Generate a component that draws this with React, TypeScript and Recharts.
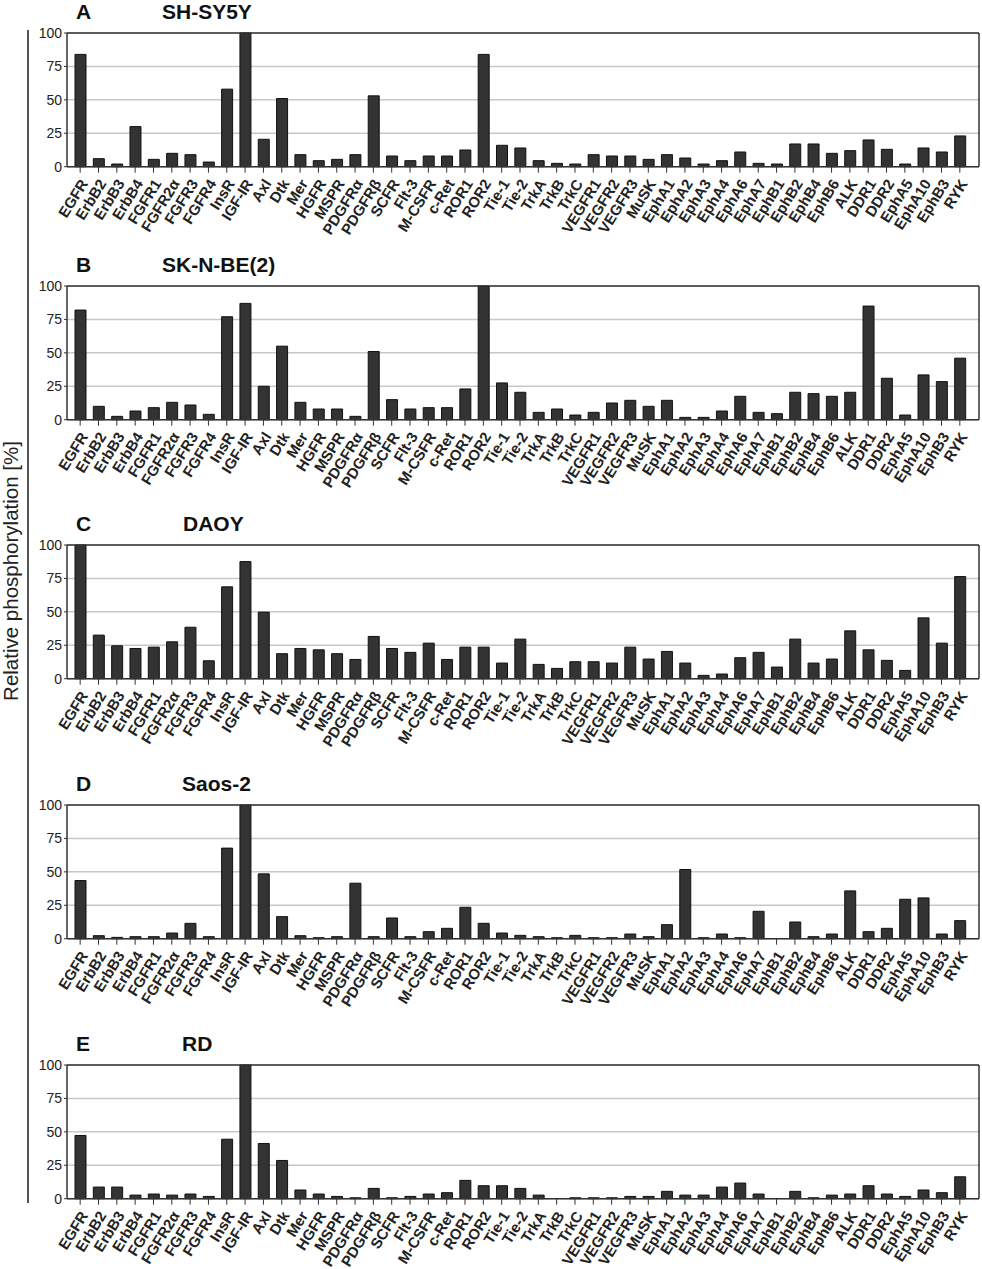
import React from 'react';
import { BarChart, Bar, XAxis, YAxis, CartesianGrid, ReferenceLine } from 'recharts';

const categories = [
  'EGFR', 'ErbB2', 'ErbB3', 'ErbB4', 'FGFR1', 'FGFR2α', 'FGFR3', 'FGFR4', 'InsR', 'IGF-IR',
  'Axl', 'Dtk', 'Mer', 'HGFR', 'MSPR', 'PDGFRα', 'PDGFRβ', 'SCFR', 'Flt-3', 'M-CSFR',
  'c-Ret', 'ROR1', 'ROR2', 'Tie-1', 'Tie-2', 'TrkA', 'TrkB', 'TrkC', 'VEGFR1', 'VEGFR2',
  'VEGFR3', 'MuSK', 'EphA1', 'EphA2', 'EphA3', 'EphA4', 'EphA6', 'EphA7', 'EphB1', 'EphB2',
  'EphB4', 'EphB6', 'ALK', 'DDR1', 'DDR2', 'EphA5', 'EphA10', 'EphB3', 'RYK',
];

const yTicks = [0, 25, 50, 75, 100];

const shSY5Y = [84, 6, 2, 30, 5.5, 10, 9, 3.5, 58, 100, 20.5, 51, 9, 4.5, 5.5, 9, 53, 8, 4.5, 8, 8, 12.5, 84, 16, 14, 4.5, 2.5, 2, 9, 8, 8, 5.5, 9, 6.5, 2, 4.5, 11, 2.5, 2, 17, 17, 10, 12, 20, 13, 2, 14, 11, 23];
const skNBE2 = [82, 10, 2.5, 6.5, 9, 13, 11, 4, 77, 87, 25, 55, 13, 8, 8, 2.5, 51, 15, 8, 9, 9, 23, 100, 27.5, 20.5, 5.5, 8, 3.5, 5.5, 12.5, 14.5, 10, 14.5, 1.75, 1.75, 6.5, 17.5, 5.5, 4.5, 20.5, 19.5, 17.5, 20.5, 85, 31, 3.5, 33.5, 28.5, 46];
const daoy = [100, 32.6, 24.6, 22.6, 23.6, 27.6, 38.5, 13.4, 68.7, 87.6, 49.8, 18.7, 22.6, 21.6, 18.7, 14.4, 31.6, 22.6, 19.7, 26.6, 14.4, 23.6, 23.6, 11.7, 29.6, 10.7, 7.7, 12.7, 12.7, 11.7, 23.6, 14.7, 20.4, 11.7, 2.5, 3.5, 15.7, 19.7, 8.7, 29.6, 11.7, 14.7, 35.8, 21.6, 13.7, 6.2, 45.5, 26.6, 76.4];
const saos2 = [43.5, 2.25, 1, 1.5, 1.5, 4.25, 11.5, 1.5, 67.75, 100, 48.5, 16.5, 2.25, 0.75, 1.5, 41.5, 1.5, 15.5, 1.5, 5.25, 7.75, 23.5, 11.5, 4.25, 2.5, 1.5, 0.75, 2.5, 0.75, 0.75, 3.5, 1.5, 10.5, 51.75, 0.75, 3.5, 0.75, 20.5, 0, 12.5, 1.5, 3.5, 35.75, 5.25, 7.75, 29.5, 30.5, 3.5, 13.5];
const rd = [47.3, 8.7, 8.7, 2.7, 3.5, 2.7, 3.5, 1.7, 44.5, 100, 41.3, 28.6, 6.5, 3.5, 1.7, 0.7, 7.7, 0.7, 1.7, 3.5, 4.5, 13.7, 9.7, 9.7, 7.7, 2.7, 0, 0.7, 0.7, 0.7, 1.7, 1.7, 5.5, 2.7, 2.7, 8.7, 11.7, 3.5, 0, 5.5, 0.7, 2.7, 3.5, 9.7, 3.5, 1.7, 6.5, 4.5, 16.4];

const panelLetters = ['A', 'B', 'C', 'D', 'E'];
const panelTitles = ['SH-SY5Y', 'SK-N-BE(2)', 'DAOY', 'Saos-2', 'RD'];
const panelValues = [shSY5Y, skNBE2, daoy, saos2, rd];

// layout (pixels)
const plotTops = [33.3, 286, 545, 805, 1065.3];
const titleXs = [162, 162, 183, 182, 182];
const PLOT_H = 133.7;
const CHART_H = 250;
const TOP_M = 10;

const FONT = '"Liberation Sans", Arial, Helvetica, sans-serif';

const XTick = (props: any) => {
  const { x, y, payload } = props;
  return (
    <g transform={`translate(${x + 4},${y + 6})`}>
      <text
        x={0}
        y={0}
        dy="0.35em"
        transform="rotate(-58)"
        textAnchor="end"
        fontSize={15}
        fontWeight="bold"
        fontFamily={FONT}
        fill="#222"
      >
        {payload.value}
      </text>
    </g>
  );
};

function Panel({ idx }: { idx: number }) {
  const values = panelValues[idx];
  const rows = categories.map((name, i) => ({ name, v: values[i] }));
  const top = plotTops[idx];
  return (
    <div style={{ position: 'absolute', left: 0, top: top - TOP_M, width: 982, height: CHART_H }}>
      <BarChart
        width={982}
        height={CHART_H}
        data={rows}
        margin={{ top: TOP_M, right: 2, left: 0, bottom: 0 }}
        barSize={11}
      >
        <CartesianGrid vertical={false} stroke="#c8c8c8" strokeWidth={1.5} />
        <XAxis
          dataKey="name"
          interval={0}
          tick={<XTick />}
          tickSize={6}
          tickMargin={2}
          tickLine={{ stroke: '#333', strokeWidth: 1 }}
          axisLine={{ stroke: '#333', strokeWidth: 1.5 }}
          height={CHART_H - TOP_M - PLOT_H}
          padding={{ left: 4, right: 10 }}
        />
        <YAxis
          domain={[0, 100]}
          ticks={yTicks}
          interval={0}
          width={67}
          tickSize={3}
          tickMargin={2}
          tickLine={{ stroke: '#333' }}
          axisLine={{ stroke: '#333', strokeWidth: 1.5 }}
          tick={{ fontSize: 14, fill: '#222', fontFamily: FONT }}
        />
        <YAxis
          yAxisId="r"
          orientation="right"
          domain={[0, 100]}
          tick={false}
          tickLine={false}
          width={1}
          axisLine={{ stroke: '#333', strokeWidth: 1.5 }}
        />
        <ReferenceLine y={100} stroke="#333" strokeWidth={1.5} />
        <Bar dataKey="v" fill="#333333" stroke="#111" strokeWidth={1} isAnimationActive={false} />
      </BarChart>
      <div
        style={{
          position: 'absolute',
          left: 76,
          top: TOP_M - 34,
          fontFamily: FONT,
          fontWeight: 'bold',
          fontSize: 21,
          color: '#111',
          lineHeight: '25px',
        }}
      >
        {panelLetters[idx]}
      </div>
      <div
        style={{
          position: 'absolute',
          left: titleXs[idx],
          top: TOP_M - 34,
          fontFamily: FONT,
          fontWeight: 'bold',
          fontSize: 21,
          color: '#111',
          lineHeight: '25px',
          whiteSpace: 'nowrap',
        }}
      >
        {panelTitles[idx]}
      </div>
    </div>
  );
}

export default function App() {
  return (
    <div style={{ position: 'absolute', left: 0, top: 0, width: 982, height: 1269, background: '#fff' }}>
      <div style={{ position: 'absolute', left: 27, top: 30, width: 1.5, height: 1173, background: '#555' }} />
      <div
        style={{
          position: 'absolute',
          left: 11,
          top: 571,
          transform: 'translate(-50%, -50%) rotate(-90deg)',
          fontFamily: FONT,
          fontSize: 20.5,
          color: '#222',
          whiteSpace: 'nowrap',
        }}
      >
        Relative phosphorylation [%]
      </div>
      {panelValues.map((_, i) => (
        <Panel key={i} idx={i} />
      ))}
    </div>
  );
}
